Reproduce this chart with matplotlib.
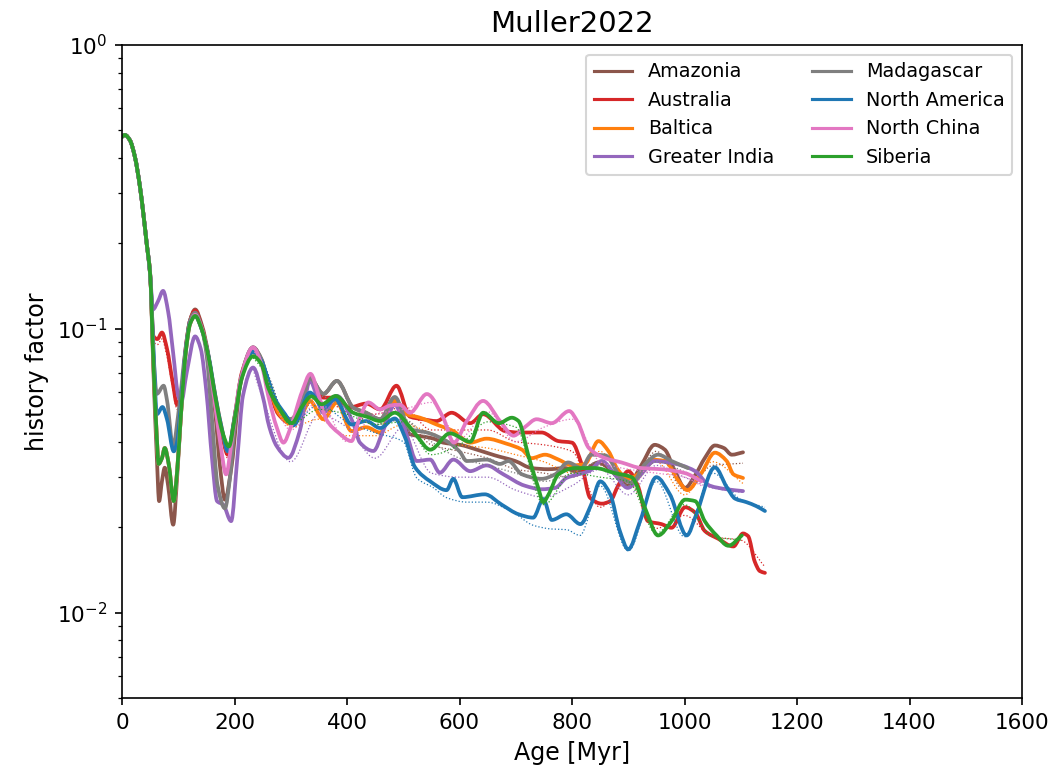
import matplotlib
matplotlib.use('Agg')
import matplotlib.pyplot as plt
from matplotlib.path import Path
from matplotlib.patches import PathPatch
import numpy as np

# shared start of all curves
common_age = [0, 5, 14, 23, 32, 38, 44, 50]
common_hf = [0.475, 0.482, 0.462, 0.403, 0.316, 0.254, 0.199, 0.156]

# Amazonia
amazonia_age = common_age + [56, 62, 66, 71, 76, 82, 91, 98, 104, 113, 121, 130, 142, 154, 166, 174, 183, 195, 210, 233, 248, 260, 278, 300, 320, 334, 358, 382, 411, 434, 459, 485, 512, 542, 554, 571, 601, 631, 663, 699, 728, 758, 788, 805, 823, 847, 865, 888, 899, 923, 947, 965, 983, 1001, 1019, 1036, 1054, 1070, 1084, 1104]
amazonia_hf = common_hf + [0.07, 0.035, 0.0247, 0.029, 0.0324, 0.028, 0.0204, 0.03, 0.047, 0.083, 0.107, 0.117, 0.103, 0.08, 0.05, 0.033, 0.025, 0.033, 0.063, 0.086, 0.078, 0.064, 0.053, 0.048, 0.055, 0.067, 0.0589, 0.0655, 0.0528, 0.0506, 0.048, 0.057, 0.0425, 0.0415, 0.041, 0.0397, 0.039, 0.0375, 0.0358, 0.0342, 0.0323, 0.032, 0.0323, 0.0315, 0.032, 0.0338, 0.0323, 0.029, 0.028, 0.033, 0.039, 0.0375, 0.0315, 0.0275, 0.0305, 0.035, 0.0388, 0.038, 0.036, 0.0367]
amazonia_ref_age = [233, 250, 300, 350, 400, 450, 500, 550, 600, 650, 700, 750, 800, 850, 900, 950, 1000, 1050, 1104]
amazonia_ref_hf = [0.085, 0.076, 0.047, 0.058, 0.053, 0.046, 0.048, 0.039, 0.037, 0.035, 0.032, 0.031, 0.030, 0.033, 0.028, 0.037, 0.027, 0.033, 0.0336]

# Australia
australia_age = common_age + [56, 63, 71, 80, 90, 98, 106, 113, 121, 130, 142, 154, 166, 178, 188, 201, 213, 233, 248, 260, 278, 299, 320, 334, 358, 379, 404, 434, 459, 488, 512, 535, 559, 586, 619, 642, 681, 705, 746, 776, 800, 817, 832, 853, 868, 882, 900, 917, 935, 959, 977, 1001, 1019, 1036, 1060, 1087, 1104, 1113, 1125, 1134, 1143]
australia_hf = common_hf + [0.094, 0.092, 0.097, 0.085, 0.065, 0.054, 0.06, 0.085, 0.107, 0.116, 0.101, 0.079, 0.055, 0.042, 0.036, 0.05, 0.07, 0.085, 0.076, 0.063, 0.05, 0.0465, 0.053, 0.0664, 0.0572, 0.0572, 0.0528, 0.0545, 0.052, 0.063, 0.049, 0.048, 0.0473, 0.0506, 0.0465, 0.05, 0.0436, 0.0431, 0.0431, 0.0402, 0.0397, 0.0334, 0.0254, 0.0242, 0.0247, 0.028, 0.0315, 0.028, 0.021, 0.0205, 0.0199, 0.0235, 0.0225, 0.0194, 0.0182, 0.0171, 0.019, 0.0186, 0.0151, 0.014, 0.0138]
australia_ref_age = [50, 56, 63, 71, 80, 90, 98, 106, 113, 130, 142, 154, 166, 178, 188, 201, 213, 233, 250, 300, 350, 400, 450, 500, 550, 600, 650, 700, 750, 800, 850, 900, 950, 1000, 1050, 1100, 1143]
australia_ref_hf = [0.156, 0.09, 0.088, 0.092, 0.08, 0.062, 0.052, 0.058, 0.083, 0.114, 0.1, 0.078, 0.054, 0.041, 0.035, 0.049, 0.069, 0.084, 0.074, 0.046, 0.058, 0.051, 0.05, 0.053, 0.044, 0.044, 0.044, 0.040, 0.039, 0.037, 0.0235, 0.029, 0.0198, 0.022, 0.0185, 0.018, 0.0145]

# Baltica
baltica_age = common_age + [56, 62, 65, 71, 76, 83, 92, 98, 104, 113, 121, 130, 142, 154, 166, 178, 188, 201, 213, 233, 248, 260, 280, 302, 320, 334, 358, 382, 408, 434, 459, 485, 506, 530, 559, 589, 619, 648, 683, 711, 728, 752, 776, 800, 823, 847, 865, 881, 899, 917, 941, 965, 990, 1005, 1030, 1054, 1075, 1087, 1104]
baltica_hf = common_hf + [0.075, 0.041, 0.0334, 0.035, 0.038, 0.0334, 0.0247, 0.0315, 0.0473, 0.0815, 0.104, 0.111, 0.0993, 0.079, 0.058, 0.044, 0.037, 0.05, 0.068, 0.083, 0.076, 0.064, 0.05, 0.0461, 0.05, 0.0557, 0.048, 0.055, 0.0436, 0.045, 0.0431, 0.0557, 0.05, 0.0486, 0.046, 0.0436, 0.0397, 0.041, 0.0394, 0.0375, 0.035, 0.036, 0.0346, 0.033, 0.0334, 0.0402, 0.037, 0.032, 0.0296, 0.0307, 0.0346, 0.0342, 0.029, 0.027, 0.031, 0.0366, 0.0342, 0.0307, 0.0298]
baltica_ref_age = [233, 250, 300, 350, 400, 450, 500, 550, 600, 650, 700, 750, 800, 850, 900, 950, 1000, 1050, 1104]
baltica_ref_hf = [0.082, 0.074, 0.045, 0.048, 0.042, 0.042, 0.046, 0.043, 0.039, 0.038, 0.036, 0.034, 0.031, 0.037, 0.0275, 0.034, 0.026, 0.034, 0.0285]

# Greater India
greater_india_age = common_age + [55, 64, 73, 82, 91, 100, 105, 115, 130, 140, 150, 160, 169, 180, 194, 205, 215, 233, 250, 262, 275, 296, 316, 334, 358, 382, 411, 423, 447, 464, 485, 506, 524, 548, 565, 589, 619, 648, 678, 716, 746, 770, 790, 811, 830, 853, 877, 899, 923, 947, 971, 995, 1019, 1045, 1075, 1104]
greater_india_hf = common_hf + [0.117, 0.125, 0.136, 0.115, 0.082, 0.058, 0.055, 0.07, 0.094, 0.085, 0.06, 0.035, 0.0247, 0.024, 0.021, 0.035, 0.058, 0.073, 0.058, 0.045, 0.0386, 0.0351, 0.0436, 0.0655, 0.0506, 0.058, 0.0465, 0.0397, 0.0371, 0.0436, 0.054, 0.0425, 0.0342, 0.0346, 0.0311, 0.0346, 0.0315, 0.033, 0.0307, 0.028, 0.0272, 0.0275, 0.0298, 0.0307, 0.0315, 0.0342, 0.0305, 0.0275, 0.0307, 0.0342, 0.0338, 0.033, 0.0315, 0.028, 0.0272, 0.0268]
greater_india_ref_age = [233, 250, 300, 350, 400, 450, 500, 550, 600, 650, 700, 750, 800, 850, 900, 950, 1000, 1050, 1104]
greater_india_ref_hf = [0.072, 0.057, 0.034, 0.05, 0.045, 0.035, 0.045, 0.031, 0.030, 0.030, 0.027, 0.0255, 0.028, 0.032, 0.026, 0.033, 0.030, 0.0275, 0.0265]

# Madagascar
madagascar_age = common_age + [56, 62, 74, 80, 91, 100, 113, 121, 130, 142, 150, 160, 170, 183, 192, 200, 210, 233, 248, 260, 278, 300, 320, 334, 358, 382, 411, 434, 459, 485, 512, 542, 577, 600, 613, 648, 672, 687, 711, 746, 770, 793, 817, 834, 859, 888, 906, 930, 953, 977, 1006]
madagascar_hf = common_hf + [0.08, 0.059, 0.063, 0.056, 0.0385, 0.05, 0.085, 0.107, 0.114, 0.1, 0.082, 0.048, 0.028, 0.0233, 0.03, 0.045, 0.065, 0.086, 0.078, 0.065, 0.053, 0.048, 0.055, 0.067, 0.059, 0.0655, 0.0528, 0.0506, 0.048, 0.0575, 0.0443, 0.0431, 0.0402, 0.037, 0.0342, 0.0346, 0.0334, 0.0342, 0.0307, 0.0296, 0.0307, 0.0338, 0.0323, 0.036, 0.0358, 0.0298, 0.0287, 0.0334, 0.036, 0.0342, 0.0323]
madagascar_ref_age = [233, 250, 300, 350, 400, 450, 500, 550, 600, 650, 700, 750, 800, 850, 900, 950, 1006]
madagascar_ref_hf = [0.085, 0.076, 0.047, 0.058, 0.052, 0.046, 0.048, 0.040, 0.035, 0.033, 0.031, 0.029, 0.031, 0.034, 0.028, 0.034, 0.031]

# North America
north_america_age = common_age + [56, 62, 72, 80, 92, 98, 104, 113, 121, 130, 142, 154, 166, 178, 188, 201, 213, 233, 248, 260, 272, 290, 305, 334, 358, 379, 408, 434, 459, 485, 503, 521, 548, 577, 589, 605, 645, 675, 705, 731, 749, 764, 790, 815, 834, 850, 868, 885, 900, 921, 950, 974, 1004, 1021, 1054, 1075, 1090, 1110, 1128, 1143]
north_america_hf = common_hf + [0.085, 0.05, 0.053, 0.048, 0.037, 0.04, 0.052, 0.083, 0.105, 0.111, 0.099, 0.08, 0.058, 0.044, 0.037, 0.05, 0.068, 0.083, 0.077, 0.066, 0.0566, 0.05, 0.0457, 0.0596, 0.0528, 0.0565, 0.046, 0.0473, 0.0447, 0.0483, 0.0415, 0.0325, 0.029, 0.027, 0.0296, 0.0255, 0.0261, 0.024, 0.0222, 0.0216, 0.0251, 0.0212, 0.0222, 0.0205, 0.024, 0.029, 0.0261, 0.0194, 0.0167, 0.021, 0.030, 0.0261, 0.0187, 0.0222, 0.0325, 0.0277, 0.0252, 0.0245, 0.0237, 0.0228]
north_america_ref_age = [233, 250, 300, 350, 400, 450, 500, 524, 554, 577, 613, 648, 696, 731, 764, 790, 814, 850, 900, 950, 1000, 1050, 1100, 1143]
north_america_ref_hf = [0.082, 0.075, 0.046, 0.054, 0.047, 0.043, 0.040, 0.0298, 0.0275, 0.0254, 0.0245, 0.0245, 0.0225, 0.0203, 0.0197, 0.0196, 0.0187, 0.028, 0.0165, 0.029, 0.0185, 0.031, 0.025, 0.0235]

# North China
north_china_age = common_age + [56, 62, 65, 71, 76, 83, 92, 98, 104, 113, 121, 130, 142, 154, 166, 176, 185, 195, 210, 233, 248, 260, 275, 287, 300, 320, 335, 350, 363, 385, 408, 420, 438, 459, 476, 494, 512, 542, 571, 590, 613, 642, 672, 696, 716, 737, 764, 795, 810, 830, 859, 888, 923, 959, 1001, 1030]
north_china_hf = common_hf + [0.075, 0.041, 0.0334, 0.035, 0.038, 0.0334, 0.0247, 0.0315, 0.0473, 0.0815, 0.104, 0.112, 0.1, 0.078, 0.053, 0.038, 0.0307, 0.04, 0.065, 0.086, 0.075, 0.058, 0.045, 0.0397, 0.045, 0.06, 0.0694, 0.058, 0.048, 0.043, 0.0402, 0.047, 0.055, 0.052, 0.0536, 0.054, 0.0506, 0.0589, 0.0486, 0.0397, 0.0473, 0.0557, 0.0473, 0.042, 0.045, 0.048, 0.0465, 0.0513, 0.047, 0.038, 0.035, 0.0338, 0.0323, 0.032, 0.031, 0.029]
north_china_ref_age = [233, 250, 300, 350, 400, 450, 500, 550, 600, 650, 700, 750, 800, 850, 900, 950, 1000, 1030]
north_china_ref_hf = [0.085, 0.073, 0.044, 0.056, 0.040, 0.050, 0.052, 0.055, 0.041, 0.051, 0.040, 0.045, 0.048, 0.034, 0.032, 0.031, 0.030, 0.028]

# Siberia
siberia_age = common_age + [56, 62, 65, 71, 76, 83, 92, 98, 104, 113, 121, 130, 142, 154, 166, 178, 190, 201, 213, 233, 248, 260, 278, 302, 319, 337, 355, 380, 411, 435, 459, 485, 512, 524, 548, 583, 619, 642, 670, 693, 705, 722, 740, 749, 758, 776, 805, 841, 876, 906, 930, 953, 977, 1001, 1019, 1036, 1057, 1078, 1102]
siberia_hf = common_hf + [0.075, 0.041, 0.0334, 0.035, 0.038, 0.0334, 0.0247, 0.0315, 0.0473, 0.0815, 0.104, 0.111, 0.0993, 0.079, 0.0572, 0.0436, 0.0385, 0.049, 0.067, 0.080, 0.075, 0.062, 0.053, 0.0465, 0.0528, 0.0578, 0.0542, 0.058, 0.0506, 0.049, 0.0473, 0.0506, 0.045, 0.042, 0.0375, 0.0428, 0.040, 0.0506, 0.0465, 0.0486, 0.0473, 0.036, 0.0275, 0.0245, 0.026, 0.0307, 0.0323, 0.0323, 0.031, 0.030, 0.0233, 0.0187, 0.021, 0.025, 0.0247, 0.021, 0.0187, 0.0172, 0.0187]
siberia_ref_age = [233, 250, 300, 350, 400, 450, 500, 550, 600, 650, 700, 750, 800, 850, 900, 950, 1000, 1050, 1102]
siberia_ref_hf = [0.079, 0.072, 0.046, 0.052, 0.050, 0.046, 0.047, 0.036, 0.039, 0.047, 0.045, 0.024, 0.031, 0.030, 0.029, 0.019, 0.024, 0.0185, 0.018]

blocks = ['Amazonia', 'Australia', 'Baltica', 'Greater India',
          'Madagascar', 'North America', 'North China', 'Siberia']
colors = ['tab:brown', 'tab:red', 'tab:orange', 'tab:purple',
          'tab:gray', 'tab:blue', 'tab:pink', 'tab:green']
ages = [amazonia_age, australia_age, baltica_age, greater_india_age,
        madagascar_age, north_america_age, north_china_age, siberia_age]
hfs = [amazonia_hf, australia_hf, baltica_hf, greater_india_hf,
       madagascar_hf, north_america_hf, north_china_hf, siberia_hf]
ref_ages = [amazonia_ref_age, australia_ref_age, baltica_ref_age, greater_india_ref_age,
            madagascar_ref_age, north_america_ref_age, north_china_ref_age, siberia_ref_age]
ref_hfs = [amazonia_ref_hf, australia_ref_hf, baltica_ref_hf, greater_india_ref_hf,
           madagascar_ref_hf, north_america_ref_hf, north_china_ref_hf, siberia_ref_hf]


def smooth_path(x, y):
    # monotone cubic (pchip-style) bezier through the points, in log-y space
    x = np.asarray(x, float)
    ly = np.log10(np.asarray(y, float))
    h = np.diff(x)
    d = np.diff(ly) / h
    m = np.zeros_like(x)
    m[0], m[-1] = d[0], d[-1]
    for k in range(1, len(x) - 1):
        if d[k - 1] * d[k] > 0:
            w1 = 2 * h[k] + h[k - 1]
            w2 = h[k] + 2 * h[k - 1]
            m[k] = (w1 + w2) / (w1 / d[k - 1] + w2 / d[k])
    verts = [(x[0], 10 ** ly[0])]
    codes = [Path.MOVETO]
    for i in range(len(x) - 1):
        verts.append((x[i] + h[i] / 3, 10 ** (ly[i] + m[i] * h[i] / 3)))
        verts.append((x[i + 1] - h[i] / 3, 10 ** (ly[i + 1] - m[i + 1] * h[i] / 3)))
        verts.append((x[i + 1], 10 ** ly[i + 1]))
        codes += [Path.CURVE4] * 3
    return Path(verts, codes)


fig = plt.figure(figsize=(1057 / 150, 771 / 150), dpi=150)
ax = fig.add_axes([122 / 1057, 1 - 698 / 771, 900 / 1057, 653 / 771])
ax.set_yscale('log')
ax.set_xlim(0, 1600)
ax.set_ylim(0.005, 1)

for name, c, a, h, ra, rh in zip(blocks, colors, ages, hfs, ref_ages, ref_hfs):
    ax.add_patch(PathPatch(smooth_path(a, h), fill=False, edgecolor=c, lw=1.8,
                           capstyle='round', joinstyle='round'))
    ax.add_patch(PathPatch(smooth_path(ra, rh), fill=False, edgecolor=c, lw=0.6,
                           ls=':'))
    ax.plot([], [], color=c, lw=1.5, label=name)

ax.tick_params(labelsize=10.3)
ax.set_xlabel('Age [Myr]', fontsize=11.4)
ax.set_ylabel('history factor', fontsize=11.4)
ax.set_title('Muller2022', fontsize=14)
ax.legend(ncol=2, loc='upper right', fontsize=9.2)

fig.savefig('out.png', dpi=150)
